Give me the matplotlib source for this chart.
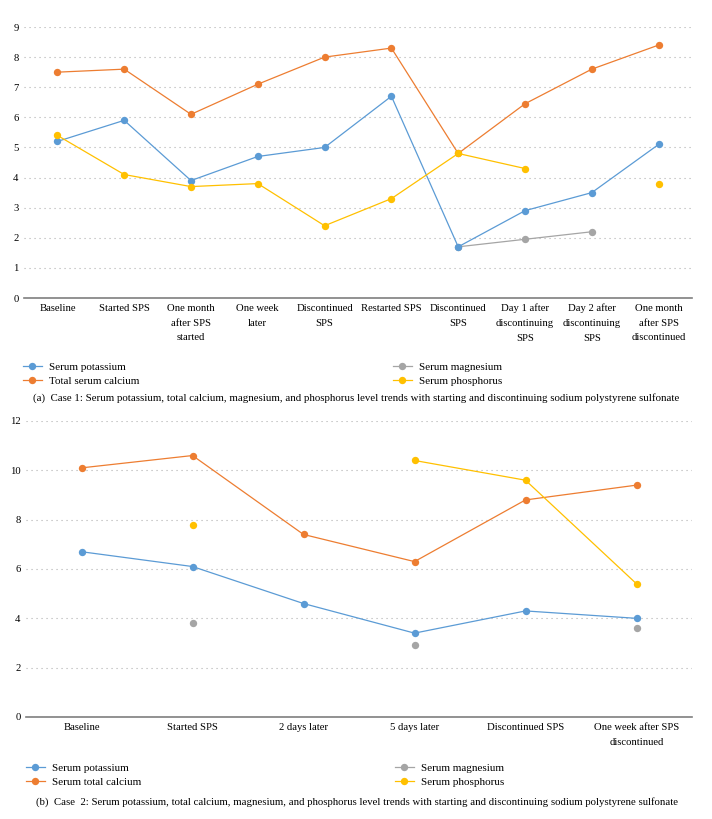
import numpy as np
import matplotlib
matplotlib.use("Agg")
import matplotlib.pyplot as plt
from matplotlib.lines import Line2D

plt.rcParams['font.family'] = ['Liberation Serif', 'DejaVu Serif']

# ---------------- data ----------------
cats1 = ["Baseline", "Started SPS", "One month\nafter SPS\nstarted", "One week\nlater",
         "Discontinued\nSPS", "Restarted SPS", "Discontinued\nSPS",
         "Day 1 after\ndiscontinuing\nSPS", "Day 2 after\ndiscontinuing\nSPS",
         "One month\nafter SPS\ndiscontinued"]
k1 = [5.2, 5.9, 3.9, 4.7, 5.0, 6.7, 1.7, 2.9, 3.5, 5.1]
ca1 = [7.5, 7.6, 6.1, 7.1, 8.0, 8.3, 4.8, 6.45, 7.6, 8.4]
mg1 = [np.nan, np.nan, np.nan, np.nan, np.nan, np.nan, 1.7, 1.95, 2.2, np.nan]
p1 = [5.4, 4.1, 3.7, 3.8, 2.4, 3.3, 4.8, 4.3, np.nan, 3.8]
labels1 = ["Serum potassium", "Total serum calcium", "Serum magnesium", "Serum phosphorus"]
yticks1 = list(range(0, 10))

cats2 = ["Baseline", "Started SPS", "2 days later", "5 days later",
         "Discontinued SPS", "One week after SPS\ndiscontinued"]
k2 = [6.7, 6.1, 4.6, 3.4, 4.3, 4.0]
ca2 = [10.1, 10.6, 7.4, 6.3, 8.8, 9.4]
mg2 = [np.nan, 3.8, np.nan, 2.9, np.nan, 3.6]
p2 = [np.nan, 7.8, np.nan, 10.4, 9.6, 5.4]
labels2 = ["Serum potassium", "Serum total calcium", "Serum magnesium", "Serum phosphorus"]
yticks2 = list(range(0, 13, 2))

caption1 = ("(a)  Case 1: Serum potassium, total calcium, magnesium, and phosphorus level trends "
            "with starting and discontinuing sodium polystyrene sulfonate")
caption2 = ("(b)  Case  2: Serum potassium, total calcium, magnesium, and phosphorus level trends "
            "with starting and discontinuing sodium polystyrene sulfonate")

colors = ["#5B9BD5", "#ED7D31", "#A5A5A5", "#FFC000"]

W, H = 712, 819
fig = plt.figure(figsize=(W / 100, H / 100), dpi=100)
FS = 7.7
LFS = 8.0
MS = 5.3


def px_axes(x0, y0, x1, y1):
    return fig.add_axes([x0 / W, 1 - y1 / H, (x1 - x0) / W, (y1 - y0) / H])


def draw(ax, cats, series, yticks):
    x = np.arange(len(cats))
    order = [2, 3, 0, 1]
    for i in order:
        ax.plot(x, series[i], color=colors[i], lw=0.9, marker='o', ms=MS,
                markeredgewidth=0, zorder=3 + (1 if i == 3 else 0), clip_on=False)
    ax.set_xlim(-0.5, len(cats) - 0.5)
    ax.set_ylim(yticks[0], yticks[-1])
    ax.set_yticks(yticks)
    ax.set_xticks(x)
    ax.set_xticklabels(cats, fontsize=FS, linespacing=1.85, va='top')
    ax.tick_params(axis='y', length=0, labelsize=FS, pad=4)
    ax.tick_params(axis='x', length=0, pad=4)
    for s in ['left', 'right', 'top']:
        ax.spines[s].set_visible(False)
    ax.spines['bottom'].set_color('#7f7f7f')
    ax.spines['bottom'].set_linewidth(1.2)
    ax.set_axisbelow(True)
    ax.yaxis.grid(True, color='#b0b0b0', linestyle=(0, (1, 3.5)), lw=0.8)


def handle(c):
    return Line2D([], [], color=c, lw=0.9, marker='o', ms=MS, markeredgewidth=0)


def legends(ytop, labels, xs):
    for xa, idx in zip(xs, [[0, 1], [2, 3]]):
        fig.legend([handle(colors[i]) for i in idx], [labels[i] for i in idx],
                   loc='upper left', bbox_to_anchor=(xa / W, 1 - ytop / H),
                   frameon=False, fontsize=LFS, handlelength=1.7,
                   handletextpad=0.6, labelspacing=0.4, borderaxespad=0,
                   borderpad=0)


ax1 = px_axes(24, 27, 692, 298)
draw(ax1, cats1, [k1, ca1, mg1, p1], yticks1)
legends(362, labels1, [23, 393])
fig.text(33 / W, 1 - 398 / H, caption1, fontsize=7.85, va='center', ha='left')

ax2 = px_axes(26, 421, 692, 717)
draw(ax2, cats2, [k2, ca2, mg2, p2], yticks2)
legends(763, labels2, [26, 395])
fig.text(36 / W, 1 - 802 / H, caption2, fontsize=7.75, va='center', ha='left')

fig.savefig("out.png", dpi=100)
